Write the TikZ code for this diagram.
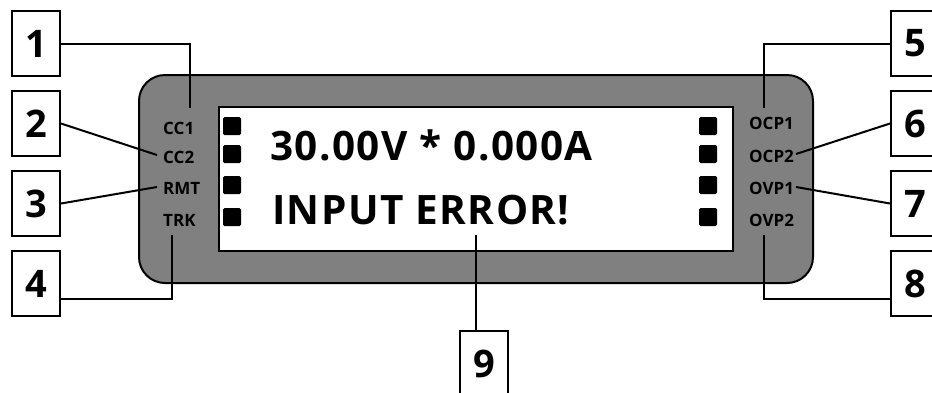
\documentclass[tikz,border=0pt]{standalone}
\usepackage{fontspec}
\setmainfont{Open Sans}
\newfontfamily\lcdfont[LetterSpace=3.5]{Open Sans}
\tikzset{
	numbox/.style={draw,line width=2pt,fill=white,minimum width=48pt,minimum height=65pt,inner sep=0pt,font=\fontsize{38}{38}\selectfont\bfseries},
	ledlbl/.style={anchor=west,inner sep=0pt,font=\fontsize{17}{17}\selectfont\bfseries},
	lcd/.style={anchor=base west,inner sep=0pt,font=\lcdfont\fontsize{40.5}{40.5}\selectfont\bfseries},
	lead/.style={line width=2pt},
	led/.style={fill=black,rounded corners=1.5pt}
}
\begin{document}
\begin{tikzpicture}[x=1pt,y=-1pt]
	\useasboundingbox(0,0)rectangle(932,392);
	% front panel and display
	\draw[line width=2pt,fill=gray,rounded corners=26pt](139,75)rectangle(813,283);
	\draw[line width=2pt,fill=white](219,107)rectangle(733,251);
	\foreach \y in{117,145,176,208}{
		\fill[led](223,\y)rectangle+(18,18);
		\fill[led](699,\y)rectangle+(18,18);
	}
	\node[lcd](volt)at(270,160){30.00V * 0.000A};
	\node[lcd](msg)at(272,224){INPUT ERROR!};
	% indicator labels
	\node[ledlbl](cc1)at(163,128){CC1};
	\node[ledlbl](cc2)at(163,157){CC2};
	\node[ledlbl](rmt)at(163,188){RMT};
	\node[ledlbl](trk)at(163,220){TRK};
	\node[ledlbl](ocp1)at(749,123){OCP1};
	\node[ledlbl](ocp2)at(749,156){OCP2};
	\node[ledlbl](ovp1)at(749,188){OVP1};
	\node[ledlbl](ovp2)at(749,220){OVP2};
	% callout boxes
	\foreach \n/\y in{1/43.5,2/123.5,3/203.5,4/283.5}{
		\node[numbox](n\n)at(36,\y){\n};
	}
	\foreach \n/\y in{5/43.5,6/123.5,7/203.5,8/283.5}{
		\node[numbox](n\n)at(915,\y){\n};
	}
	\node[numbox](n9)at(484,363.5){9};
	% leaders
	\coordinate(p1)at(190,108);
	\coordinate(p2)at(157,155);
	\coordinate(p3)at(157,187);
	\coordinate(p4)at(172,235);
	\coordinate(q4)at(172,299);
	\coordinate(p5)at(764,108);
	\coordinate(p6)at(796,154);
	\coordinate(p7)at(796,187);
	\coordinate(p8)at(764,235);
	\coordinate(q8)at(764,299);
	\coordinate(p9)at(476,235);
	\draw[lead](n1.east)-|(p1);
	\draw[lead](n2.east)--(p2);
	\draw[lead](n3.east)--(p3);
	\draw[lead](p4)--(q4)--(q4-|n4.east);
	\draw[lead](n5.west)-|(p5);
	\draw[lead](n6.west)--(p6);
	\draw[lead](n7.west)--(p7);
	\draw[lead](p8)--(q8)--(q8-|n8.west);
	\draw[lead](p9)--(p9|-n9.north);
\end{tikzpicture}
\end{document}
